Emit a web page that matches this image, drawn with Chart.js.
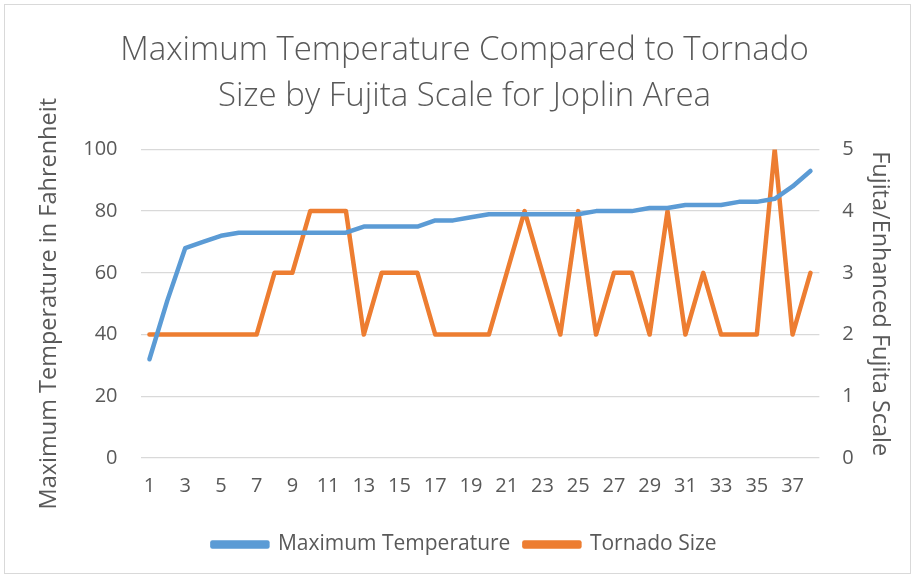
<!DOCTYPE html>
<html>
<head>
<meta charset="utf-8">
<script src="https://cdn.jsdelivr.net/npm/chart.js@4"></script>
<style>
  html, body { margin: 0; padding: 0; background: #fff; }
  #wrap { position: absolute; left: 4px; top: 4px; width: 907px; height: 570px; border: 1px solid #d9d9d9; box-sizing: border-box; }
  canvas { display: block; }
</style>
</head>
<body>
<div id="wrap"><canvas id="chart"></canvas></div>
<script>
const categories = Array.from({ length: 38 }, (_, i) => String(i + 1));
const maxTemp = [32, 51, 68, 70, 72, 73, 73, 73, 73, 73, 73, 73, 75, 75, 75, 75, 77, 77, 78, 79,
                 79, 79, 79, 79, 79, 80, 80, 80, 81, 81, 82, 82, 82, 83, 83, 84, 88, 93];
const tornadoSize = [2, 2, 2, 2, 2, 2, 2, 3, 3, 4, 4, 4, 2, 3, 3, 3, 2, 2, 2, 2,
                     3, 4, 3, 2, 4, 2, 3, 3, 2, 4, 2, 3, 2, 2, 2, 5, 2, 3];
const tempTicks = [0, 20, 40, 60, 80, 100];
const fujitaTicks = [0, 1, 2, 3, 4, 5];

const grey = '#595959';
const ctx = document.getElementById('chart').getContext('2d');
new Chart(ctx, {
  type: 'line',
  data: {
    labels: categories,
    datasets: [{
      label: 'Maximum Temperature',
      data: maxTemp,
      borderColor: '#5b9bd5',
      backgroundColor: '#5b9bd5',
      borderWidth: 4.5,
      pointRadius: 0,
      borderCapStyle: 'round',
      borderJoinStyle: 'round',
      yAxisID: 'y'
    }, {
      label: 'Tornado Size',
      data: tornadoSize,
      borderColor: '#ed7d31',
      backgroundColor: '#ed7d31',
      borderWidth: 4.5,
      pointRadius: 0,
      borderCapStyle: 'round',
      borderJoinStyle: 'round',
      yAxisID: 'y1'
    }]
  },
  options: {
    responsive: true,
    maintainAspectRatio: false,
    animation: false,
    layout: { padding: { left: 27, right: 13, top: 18, bottom: 8 } },
    plugins: {
      title: {
        display: true,
        text: ['Maximum Temperature Compared to Tornado', 'Size by Fujita Scale for Joplin Area'],
        color: grey,
        font: { family: 'Open Sans', size: 33, weight: 300, lineHeight: 1.4 },
        padding: { top: 4, bottom: 30 }
      },
      legend: {
        position: 'bottom',
        labels: {
          color: grey,
          font: { family: 'Open Sans', size: 21 },
          boxWidth: 55,
          boxHeight: 4,
          padding: 14
        }
      },
      tooltip: { enabled: false }
    },
    scales: {
      x: {
        offset: true,
        grid: { display: false },
        border: { display: false },
        afterFit: scale => { scale.height += 14; },
        ticks: {
          color: grey,
          font: { family: 'Open Sans', size: 20 },
          autoSkip: false,
          maxRotation: 0,
          padding: 8,
          callback: function (v, i) { return i % 2 === 0 ? categories[i] : ''; }
        }
      },
      y: {
        position: 'left',
        min: 0,
        max: 100,
        afterBuildTicks: axis => { axis.ticks = tempTicks.map(v => ({ value: v })); },
        grid: { color: '#d9d9d9', lineWidth: 1.3, drawTicks: false },
        border: { display: false },
        ticks: { color: grey, font: { family: 'Open Sans', size: 20 }, padding: 23 },
        title: {
          display: true,
          text: 'Maximum Temperature in Fahrenheit',
          color: grey,
          font: { family: 'Open Sans', size: 23.5 },
          padding: { top: 3, bottom: -3 }
        }
      },
      y1: {
        position: 'right',
        min: 0,
        max: 5,
        afterBuildTicks: axis => { axis.ticks = fujitaTicks.map(v => ({ value: v })); },
        grid: { display: false, drawTicks: false },
        border: { display: false },
        ticks: { color: grey, font: { family: 'Open Sans', size: 20 }, padding: 23 },
        title: {
          display: true,
          text: 'Fujita/Enhanced Fujita Scale',
          color: grey,
          font: { family: 'Open Sans', size: 23.5 },
          padding: { top: 3, bottom: -11 }
        }
      }
    }
  }
});
</script>
</body>
</html>
